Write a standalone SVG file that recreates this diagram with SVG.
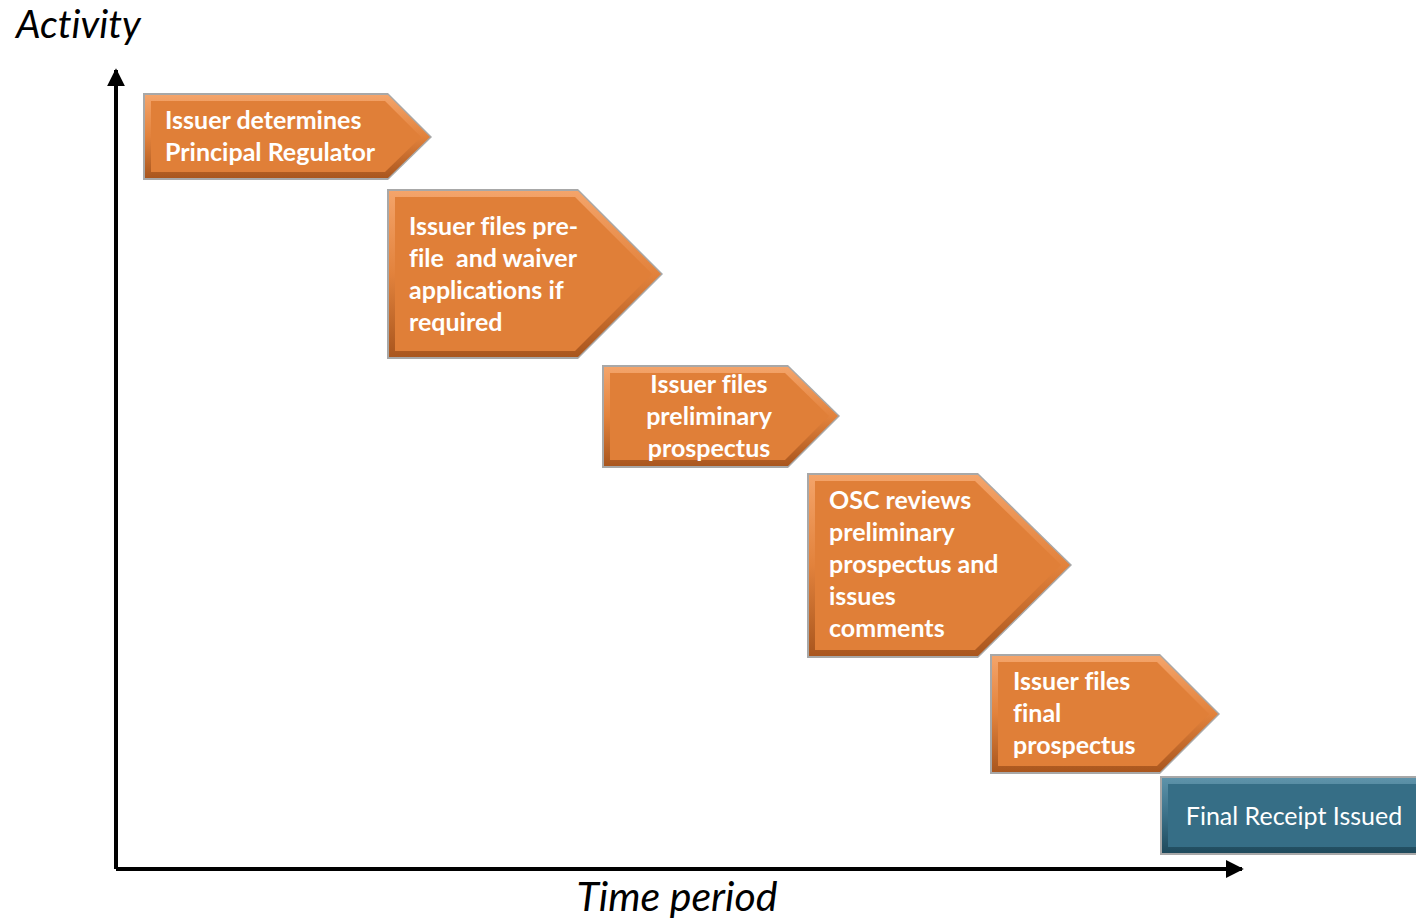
<svg xmlns="http://www.w3.org/2000/svg" width="1416" height="920" viewBox="0 0 1416 920">
<defs>
<linearGradient id="og" x1="0" y1="0" x2="0" y2="1">
<stop offset="0" stop-color="#F4A46A"/>
<stop offset="0.5" stop-color="#E2823C"/>
<stop offset="1" stop-color="#A9561E"/>
</linearGradient>
<linearGradient id="bg" x1="0" y1="0" x2="0" y2="1">
<stop offset="0" stop-color="#5E93AA"/>
<stop offset="0.5" stop-color="#3A7088"/>
<stop offset="1" stop-color="#1F4A5C"/>
</linearGradient>
<marker id="ah" viewBox="0 0 10 10" refX="9" refY="5" markerWidth="4.5" markerHeight="4.5" orient="auto" markerUnits="strokeWidth">
<path d="M0,0 L10,5 L0,10 z" fill="#000"/>
</marker>
<style>
text{font-variant-ligatures:none;}
.sh{fill:#A8A8A8;}
.outer{fill:url(#og);}
.inner{fill:#E07F38;}
.bouter{fill:url(#bg);}
.binner{fill:#366E86;}
.t{font-family:Lato,"Liberation Sans",sans-serif;font-weight:bold;font-size:25px;fill:#FFFFFF;}
.tb{font-family:Lato,"Liberation Sans",sans-serif;font-size:25px;fill:#FFFFFF;}
.ax{font-family:Lato,"Liberation Sans",sans-serif;font-style:italic;fill:#000;}
</style>
</defs>
<rect width="1416" height="920" fill="#FFFFFF"/>
<g id="axes">
<line x1="116" y1="869" x2="116" y2="70" stroke="#000" stroke-width="4" marker-end="url(#ah)"/>
<line x1="116" y1="869" x2="1242" y2="869" stroke="#000" stroke-width="4" marker-end="url(#ah)"/>
</g>
<text class="ax" x="16" y="38" font-size="39">Activity</text>
<text class="ax" x="677" y="911" font-size="41" text-anchor="middle">Time period</text>
<g id="n1">
<polygon class="sh" points="143,93 388,93 432,137 388,180 143,180"/>
<polygon class="outer" points="145,95 388,95 430,137 388,178 145,178"/>
<polygon class="inner" points="151,101 385,101 421,137 385,172 151,172"/>
<text class="t" x="165" y="129">Issuer determines</text>
<text class="t" x="165" y="161">Principal Regulator</text>
</g>
<g id="n2">
<polygon class="sh" points="387,189 578,189 663,274 578,359 387,359"/>
<polygon class="outer" points="389,191 578,191 661,274 578,357 389,357"/>
<polygon class="inner" points="395,197 575,197 652,274 575,351 395,351"/>
<text class="t" x="409" y="235">Issuer files pre-</text>
<text class="t" x="409" y="267">file&#160; and waiver</text>
<text class="t" x="409" y="299">applications if</text>
<text class="t" x="409" y="331">required</text>
</g>
<g id="n3">
<polygon class="sh" points="602,365 788,365 840,416 788,468 602,468"/>
<polygon class="outer" points="604,367 788,367 838,416 788,466 604,466"/>
<polygon class="inner" points="610,373 785,373 829,416 785,460 610,460"/>
<text class="t" x="709" y="393" text-anchor="middle">Issuer files</text>
<text class="t" x="709" y="425" text-anchor="middle">preliminary</text>
<text class="t" x="709" y="457" text-anchor="middle">prospectus</text>
</g>
<g id="n4">
<polygon class="sh" points="807,473 978,473 1072,565 978,658 807,658"/>
<polygon class="outer" points="809,475 978,475 1070,565 978,656 809,656"/>
<polygon class="inner" points="815,481 975,481 1061,565 975,650 815,650"/>
<text class="t" x="829" y="509">OSC reviews</text>
<text class="t" x="829" y="541">preliminary</text>
<text class="t" x="829" y="573">prospectus and</text>
<text class="t" x="829" y="605">issues</text>
<text class="t" x="829" y="637">comments</text>
</g>
<g id="n5">
<polygon class="sh" points="990,654 1160,654 1220,714 1160,774 990,774"/>
<polygon class="outer" points="992,656 1160,656 1218,714 1160,772 992,772"/>
<polygon class="inner" points="998,662 1157,662 1209,714 1157,766 998,766"/>
<text class="t" x="1013" y="690">Issuer files</text>
<text class="t" x="1013" y="722">final</text>
<text class="t" x="1013" y="754">prospectus</text>
</g>
<g id="n6">
<rect class="sh" x="1160" y="776" width="260" height="79"/>
<rect class="bouter" x="1162" y="778" width="258" height="75"/>
<rect class="binner" x="1168" y="784" width="252" height="63"/>
<text class="tb" x="1294" y="825" text-anchor="middle">Final Receipt Issued</text>
</g>
</svg>
